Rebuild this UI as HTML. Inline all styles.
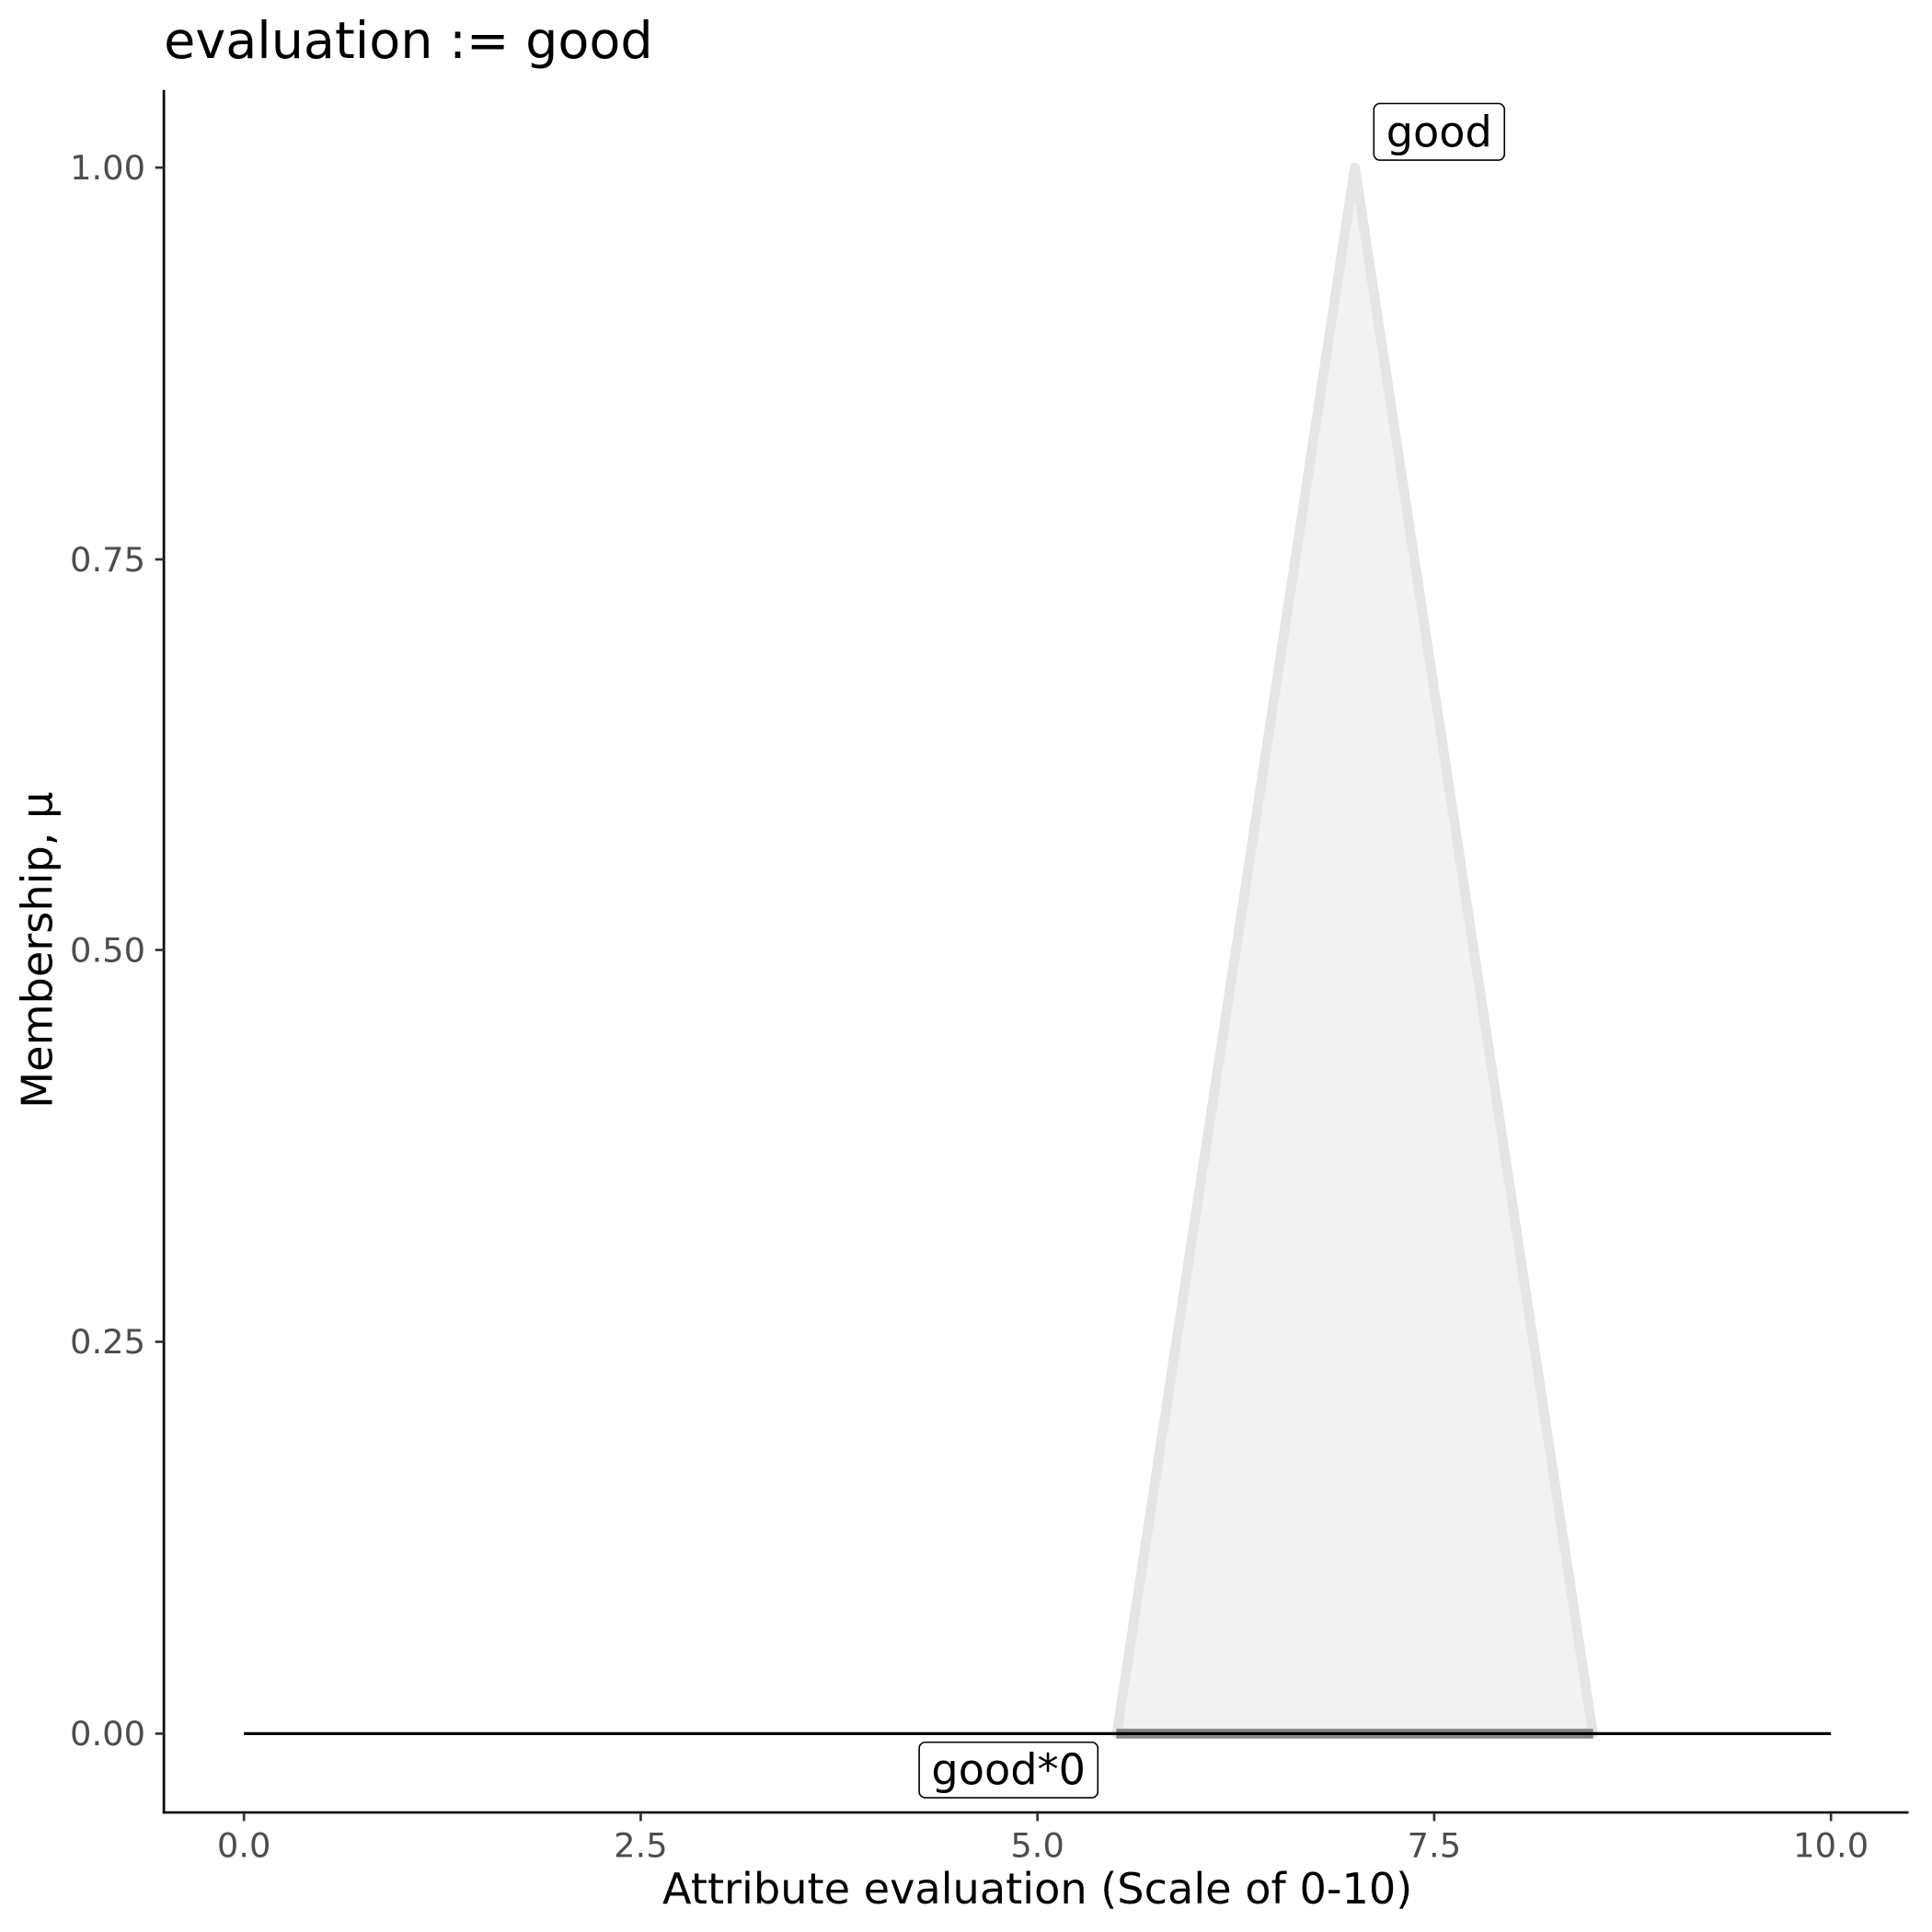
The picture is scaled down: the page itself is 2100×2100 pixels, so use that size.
<!DOCTYPE html>
<html><head><meta charset="utf-8"><style>html,body{margin:0;padding:0;background:#fff}svg{display:block}</style></head>
<body>
<svg width="2100" height="2100" viewBox="0 0 1568 1568" xmlns="http://www.w3.org/2000/svg" font-family="DejaVu Sans, Liberation Sans, sans-serif">
<rect width="1568" height="1568" fill="#fff"/>
<text x="133" y="47" font-size="41.5" fill="#000">evaluation := good</text>
<polygon points="906.4,1407 1099.6,136 1292.8,1407" fill="#f2f2f2" stroke="#e5e5e5" stroke-width="8" stroke-linejoin="round"/>
<line x1="198" y1="1407" x2="1486" y2="1407" stroke="#000" stroke-width="2.5"/>
<rect x="906" y="1403" width="387" height="8" fill="#000" fill-opacity="0.4"/>
<line x1="133" y1="73" x2="133" y2="1472" stroke="#000" stroke-width="2"/>
<line x1="132" y1="1471" x2="1549" y2="1471" stroke="#000" stroke-width="2"/>
<g stroke="#333" stroke-width="2">
<line x1="126" y1="136" x2="133" y2="136"/><line x1="126" y1="454" x2="133" y2="454"/><line x1="126" y1="771" x2="133" y2="771"/><line x1="126" y1="1089" x2="133" y2="1089"/><line x1="126" y1="1407" x2="133" y2="1407"/>
<line x1="198" y1="1471" x2="198" y2="1478"/><line x1="520" y1="1471" x2="520" y2="1478"/><line x1="842" y1="1471" x2="842" y2="1478"/><line x1="1164" y1="1471" x2="1164" y2="1478"/><line x1="1486" y1="1471" x2="1486" y2="1478"/>
</g>
<g font-size="27.5" fill="#4d4d4d" text-anchor="end">
<text x="118" y="145.5">1.00</text><text x="118" y="463.5">0.75</text><text x="118" y="780.5">0.50</text><text x="118" y="1098.5">0.25</text><text x="118" y="1416.5">0.00</text>
</g>
<g font-size="27.5" fill="#4d4d4d" text-anchor="middle">
<text x="198" y="1507">0.0</text><text x="520" y="1507">2.5</text><text x="842" y="1507">5.0</text><text x="1164" y="1507">7.5</text><text x="1486" y="1507">10.0</text>
</g>
<text x="842" y="1545" font-size="34.5" text-anchor="middle" fill="#000">Attribute evaluation (Scale of 0-10)</text>
<text transform="translate(42,771) rotate(-90)" font-size="34.5" text-anchor="middle" fill="#000">Membership, μ</text>
<rect x="1115" y="84" width="106" height="46" rx="5" fill="#fff" stroke="#000" stroke-width="1.2"/>
<text x="1168" y="119" font-size="34.5" text-anchor="middle" fill="#000">good</text>
<rect x="746" y="1414" width="145" height="45" rx="5" fill="#fff" stroke="#000" stroke-width="1.2"/>
<text x="818.5" y="1448" font-size="34.5" text-anchor="middle" fill="#000">good*0</text>
</svg>
</body></html>
